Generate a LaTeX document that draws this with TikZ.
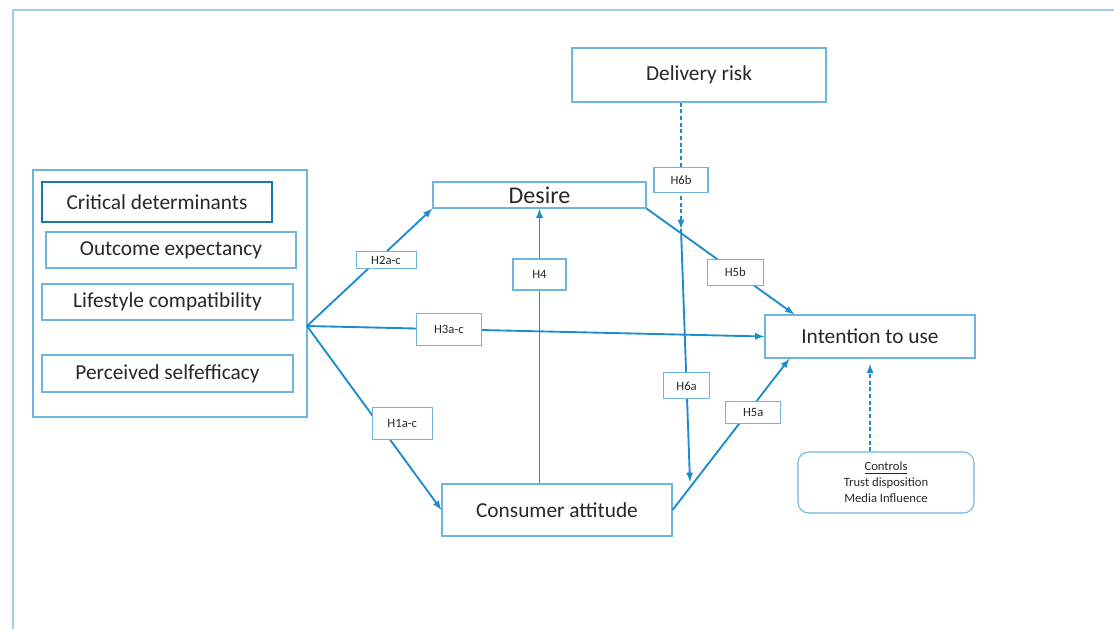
\documentclass[tikz,border=0pt]{standalone}
\usepackage{fontspec}
\setmainfont{Carlito}
\usetikzlibrary{calc}
\definecolor{linkblue}{RGB}{28,140,204}
\definecolor{boxblue}{RGB}{110,182,224}
\definecolor{frameblue}{RGB}{160,206,234}
\definecolor{txtgray}{RGB}{40,40,40}
\tikzset{
  var/.style={draw=boxblue, line width=.8pt, fill=white, text=txtgray, font=\fontsize{16}{18}\selectfont, inner sep=0pt},
  hyp/.style={draw=boxblue, solid, line width=.8pt, fill=white, text=txtgray, font=\fontsize{9.5}{11}\selectfont, inner sep=0pt},
  link/.style={linkblue, line width=1.4pt, ->},
}
\begin{document}
\begin{tikzpicture}[>=latex, x=0.75pt, y=-0.75pt]
\useasboundingbox (0,0) rectangle (1114,629);
\draw[frameblue, line width=.8pt](13,629)--(13,10)--(1114,10);

\node[var, minimum width=190.5pt, minimum height=40.5pt](delivery) at (699,75){Delivery risk};
\node[var, minimum width=205.5pt, minimum height=185.25pt](group) at (170,293.5){};
\node[var, draw=linkblue!85!black, line width=1.1pt, minimum width=172.5pt, minimum height=30pt](crit) at (157,202){Critical determinants};
\node[var, minimum width=187.5pt, minimum height=27pt](outcome) at (171,250){Outcome expectancy};
\node[var, minimum width=188.25pt, minimum height=27pt](lifestyle) at (167.5,302){Lifestyle compatibility};
\node[var, minimum width=188.25pt, minimum height=27.75pt](selfeff) at (167.5,373.5){Perceived selfefficacy};
\node[var, font=\fontsize{18}{20}\selectfont, minimum width=159.75pt, minimum height=19.5pt](desire) at (539.5,195){Desire};
\node[var, minimum width=172.5pt, minimum height=39pt](attitude) at (557,510){Consumer attitude};
\node[var, minimum width=157.5pt, minimum height=32.25pt](intention) at (870,336.5){Intention to use};
\node[var, rounded corners=8pt, align=center, font=\fontsize{9.5}{12}\selectfont, minimum width=132pt, minimum height=45.75pt](controls) at (886,482.5){\underline{Controls}\\Trust disposition\\Media Influence};

\coordinate (src) at (307,326);
\coordinate (m6b) at (681,229);
\coordinate (m6a) at (690,482);

\draw[link](src)--node[hyp, pos=.63, yshift=-6pt, minimum width=45pt, minimum height=12.75pt]{H2a-c}(desire.south west);
\draw[link](src)--node[hyp, pos=.31, minimum width=48.75pt, minimum height=24pt]{H3a-c}(intention.west);
\draw[link](src)--node[hyp, pos=.53, xshift=18pt, minimum width=45pt, minimum height=24pt]{H1a-c}(attitude.west);
\draw[link](attitude.north -| desire.south)--node[hyp, pos=.76, minimum width=39.75pt, minimum height=23.25pt]{H4}(desire.south);
\draw[link](desire.south east)--node[hyp, pos=.6, minimum width=42pt, minimum height=19.5pt]{H5b}($(intention.north west)+(30,0)$);
\draw[link](attitude.east)--node[hyp, pos=.69, yshift=-5pt, minimum width=41.25pt, minimum height=16.5pt]{H5a}($(intention.south west)+(25,0)$);
\draw[link, densely dashed](delivery.south -| m6b)--node[hyp, pos=.61, minimum width=40.5pt, minimum height=18.75pt]{H6b}(m6b);
\draw[link](m6b)--node[hyp, pos=.62, minimum width=34pt, minimum height=19.5pt]{H6a}(m6a);
\draw[link, densely dashed, shorten >=4pt](controls.north -| intention.south)--(intention.south);
\end{tikzpicture}
\end{document}
